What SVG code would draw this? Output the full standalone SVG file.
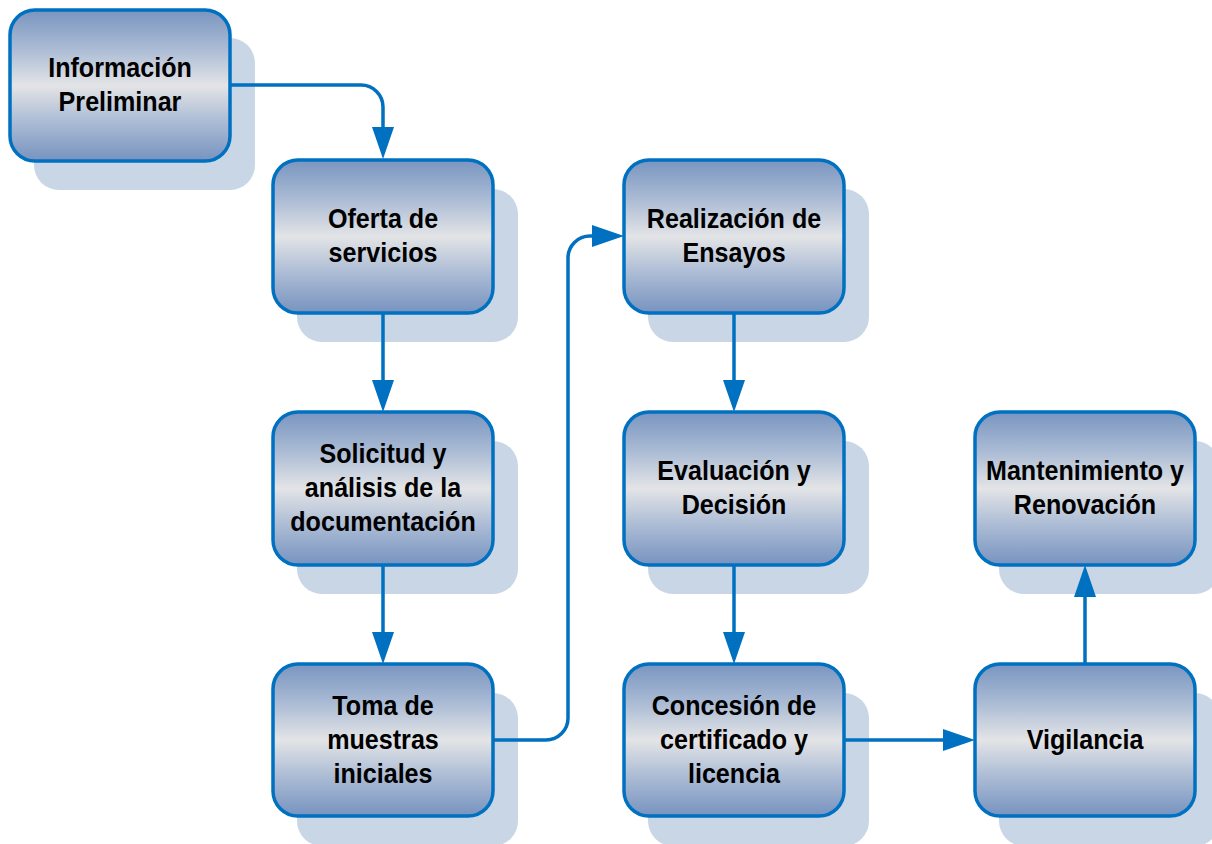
<svg xmlns="http://www.w3.org/2000/svg" width="1212" height="844" viewBox="0 0 1212 844">
<defs>
<linearGradient id="g" x1="0" y1="0" x2="0" y2="1">
<stop offset="0" stop-color="#7995c0"/>
<stop offset="0.25" stop-color="#a9bad4"/>
<stop offset="0.5" stop-color="#e3e4e6"/>
<stop offset="0.75" stop-color="#a9bad4"/>
<stop offset="1" stop-color="#7793bf"/>
</linearGradient>
<marker id="ah" markerUnits="userSpaceOnUse" markerWidth="32" markerHeight="22" refX="0" refY="11" orient="auto">
<path d="M0,0 L32,11 L0,22 z" fill="#0070c0"/>
</marker>
</defs>
<style>
.sh{fill:#c9d6e6}
.bx{fill:url(#g);stroke:#0070c0;stroke-width:3.5}
.t{font-family:"Liberation Sans",Arial,sans-serif;font-weight:bold;font-size:27px;fill:#000;text-anchor:middle}
.c{fill:none;stroke:#0070c0;stroke-width:3.5;marker-end:url(#ah)}
</style>
<rect width="1212" height="844" fill="#fff"/>
<g id="n1">
<rect class="sh" x="34" y="38" width="221" height="152" rx="25"/>
<rect class="bx" x="10" y="10" width="220" height="151" rx="25"/>
<text class="t" transform="matrix(0.93 0 0 1 120 0)"><tspan x="0" y="77">Información</tspan><tspan x="0" y="111">Preliminar</tspan></text>
</g>
<g id="n2">
<rect class="sh" x="297" y="189" width="221" height="153" rx="25"/>
<rect class="bx" x="273" y="160" width="220" height="153" rx="25"/>
<text class="t" transform="matrix(0.93 0 0 1 383 0)"><tspan x="0" y="228">Oferta de</tspan><tspan x="0" y="262">servicios</tspan></text>
</g>
<g id="n3">
<rect class="sh" x="297" y="441" width="221" height="153" rx="25"/>
<rect class="bx" x="273" y="412" width="220" height="153" rx="25"/>
<text class="t" transform="matrix(0.93 0 0 1 383 0)"><tspan x="0" y="463">Solicitud y</tspan><tspan x="0" y="497">análisis de la</tspan><tspan x="0" y="531">documentación</tspan></text>
</g>
<g id="n4">
<rect class="sh" x="297" y="693" width="221" height="153" rx="25"/>
<rect class="bx" x="273" y="664" width="220" height="152" rx="25"/>
<text class="t" transform="matrix(0.93 0 0 1 383 0)"><tspan x="0" y="715">Toma de</tspan><tspan x="0" y="749">muestras</tspan><tspan x="0" y="783">iniciales</tspan></text>
</g>
<g id="n5">
<rect class="sh" x="648" y="189" width="221" height="153" rx="25"/>
<rect class="bx" x="624" y="160" width="220" height="153" rx="25"/>
<text class="t" transform="matrix(0.93 0 0 1 734 0)"><tspan x="0" y="228">Realización de</tspan><tspan x="0" y="262">Ensayos</tspan></text>
</g>
<g id="n6">
<rect class="sh" x="648" y="441" width="221" height="153" rx="25"/>
<rect class="bx" x="624" y="412" width="220" height="153" rx="25"/>
<text class="t" transform="matrix(0.93 0 0 1 734 0)"><tspan x="0" y="480">Evaluación y</tspan><tspan x="0" y="514">Decisión</tspan></text>
</g>
<g id="n7">
<rect class="sh" x="648" y="693" width="221" height="153" rx="25"/>
<rect class="bx" x="624" y="664" width="220" height="152" rx="25"/>
<text class="t" transform="matrix(0.93 0 0 1 734 0)"><tspan x="0" y="715">Concesión de</tspan><tspan x="0" y="749">certificado y</tspan><tspan x="0" y="783">licencia</tspan></text>
</g>
<g id="n8">
<rect class="sh" x="999" y="441" width="221" height="153" rx="25"/>
<rect class="bx" x="975" y="412" width="220" height="153" rx="25"/>
<text class="t" transform="matrix(0.93 0 0 1 1085 0)"><tspan x="0" y="480">Mantenimiento y</tspan><tspan x="0" y="514">Renovación</tspan></text>
</g>
<g id="n9">
<rect class="sh" x="999" y="693" width="221" height="153" rx="25"/>
<rect class="bx" x="975" y="664" width="220" height="152" rx="25"/>
<text class="t" transform="matrix(0.93 0 0 1 1085 0)"><tspan x="0" y="749">Vigilancia</tspan></text>
</g>
<g id="connectors">
<path class="c" d="M230,85 H361 A22,22 0 0 1 383,107 V127"/>
<path class="c" d="M383,313 V380"/>
<path class="c" d="M383,565 V632"/>
<path class="c" d="M493,740 H546 A22,22 0 0 0 568,718 V258 A22,22 0 0 1 590,236 H592"/>
<path class="c" d="M734,313 V380"/>
<path class="c" d="M734,565 V632"/>
<path class="c" d="M844,740 H943"/>
<path class="c" d="M1085,664 V597"/>
</g>
</svg>
